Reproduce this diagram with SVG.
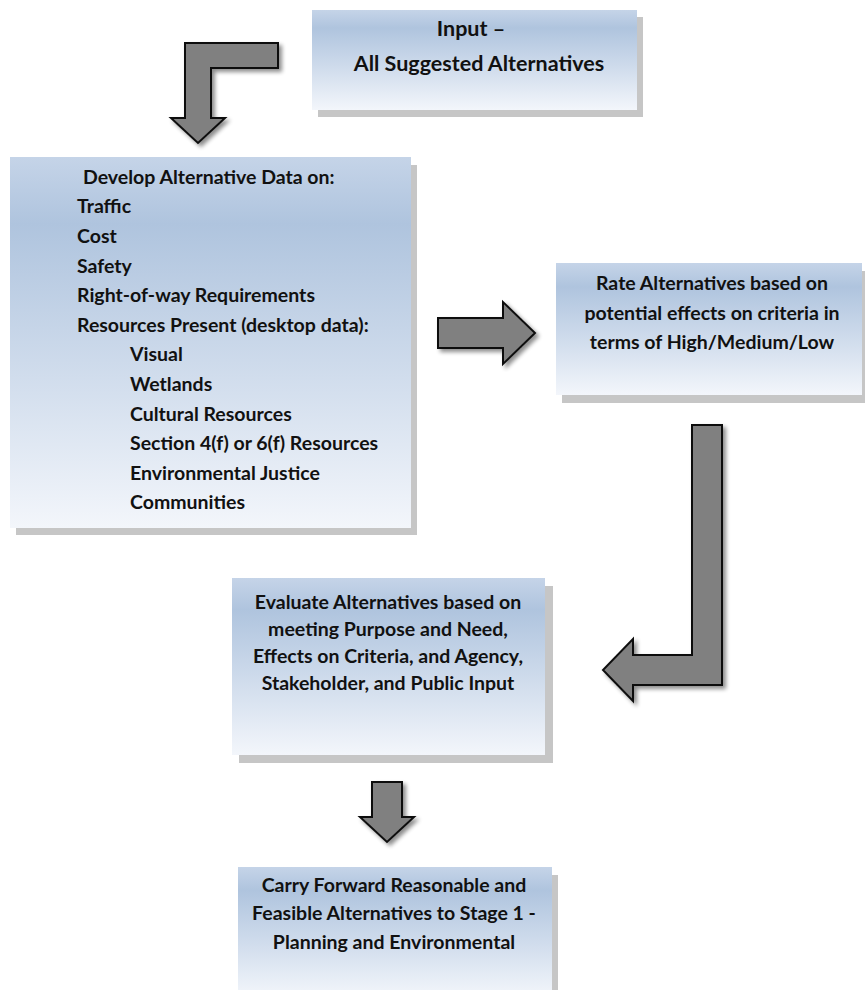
<svg xmlns="http://www.w3.org/2000/svg" width="865" height="990" viewBox="0 0 865 990">
<defs>
<linearGradient id="boxgrad" x1="0" y1="0" x2="0" y2="1">
<stop offset="0" stop-color="#c5d4e8"/>
<stop offset="0.18" stop-color="#afc4de"/>
<stop offset="0.55" stop-color="#cddaeb"/>
<stop offset="1" stop-color="#f3f6fb"/>
</linearGradient>
<filter id="arrowshadow" x="-20%" y="-20%" width="150%" height="150%">
<feGaussianBlur in="SourceAlpha" stdDeviation="2"/>
<feOffset dx="3" dy="3" result="b"/>
<feComponentTransfer><feFuncA type="linear" slope="0.45"/></feComponentTransfer>
<feMerge><feMergeNode/><feMergeNode in="SourceGraphic"/></feMerge>
</filter>
</defs>
<style>
.box{fill:url(#boxgrad);}
.shadow{fill:#c6c6c6;}
.arrow{fill:#808080;stroke:#111;stroke-width:2;stroke-linejoin:miter;}
.t{font-family:Lato,"Liberation Sans",sans-serif;font-weight:bold;font-size:19.5px;fill:#111;}
.c{text-anchor:middle;}
.big{font-size:21.5px;}
</style>
<rect width="865" height="990" fill="#ffffff"/>

<g id="input">
<rect class="shadow" x="318" y="17" width="325" height="100"/>
<rect class="box" x="312" y="10" width="325" height="100"/>
<text class="t c big" x="471" y="36">Input –</text>
<text class="t c big" x="479" y="71">All Suggested Alternatives</text>
</g>

<g id="develop">
<rect class="shadow" x="16" y="165" width="401" height="370"/>
<rect class="box" x="10" y="157" width="401" height="371"/>
<text class="t" x="83" y="184">Develop Alternative Data on:</text>
<text class="t" x="77" y="213">Traffic</text>
<text class="t" x="77" y="243">Cost</text>
<text class="t" x="77" y="273">Safety</text>
<text class="t" x="77" y="302">Right-of-way Requirements</text>
<text class="t" x="77" y="332">Resources Present (desktop data):</text>
<text class="t" x="130" y="361">Visual</text>
<text class="t" x="130" y="391">Wetlands</text>
<text class="t" x="130" y="421">Cultural Resources</text>
<text class="t" x="130" y="450">Section 4(f) or 6(f) Resources</text>
<text class="t" x="130" y="480">Environmental Justice</text>
<text class="t" x="130" y="509">Communities</text>
</g>

<g id="rate">
<rect class="shadow" x="562" y="271" width="306" height="132"/>
<rect class="box" x="556" y="263" width="306" height="132"/>
<text class="t c" x="712" y="290">Rate Alternatives based on</text>
<text class="t c" x="712" y="320">potential effects on criteria in</text>
<text class="t c" x="712" y="349">terms of High/Medium/Low</text>
</g>

<g id="evaluate">
<rect class="shadow" x="239" y="586" width="314" height="177"/>
<rect class="box" x="232" y="578" width="313" height="177"/>
<text class="t c" x="388" y="609">Evaluate Alternatives based on</text>
<text class="t c" x="388" y="636">meeting Purpose and Need,</text>
<text class="t c" x="388" y="663">Effects on Criteria, and Agency,</text>
<text class="t c" x="388" y="690">Stakeholder, and Public Input</text>
</g>

<g id="carry">
<rect class="shadow" x="244" y="875" width="314" height="130"/>
<rect class="box" x="238" y="867" width="314" height="130"/>
<text class="t c" x="394" y="892">Carry Forward Reasonable and</text>
<text class="t c" x="394" y="920">Feasible Alternatives to Stage 1 -</text>
<text class="t c" x="394" y="949">Planning and Environmental</text>
</g>

<g id="connectors" filter="url(#arrowshadow)">
<path class="arrow" d="M278,43 L185,43 L185,118 L171,118 L198,143 L225,118 L211,118 L211,68 L278,68 Z"/>
<path class="arrow" d="M438,318 L503,318 L503,302 L535,333 L503,364 L503,348 L438,348 Z"/>
<path class="arrow" d="M692,425 L722,425 L722,685 L633,685 L633,701 L603,670 L633,639 L633,655 L692,655 Z"/>
<path class="arrow" d="M372,782 L402,782 L402,817 L414,817 L387,842 L360,817 L372,817 Z"/>
</g>
</svg>
